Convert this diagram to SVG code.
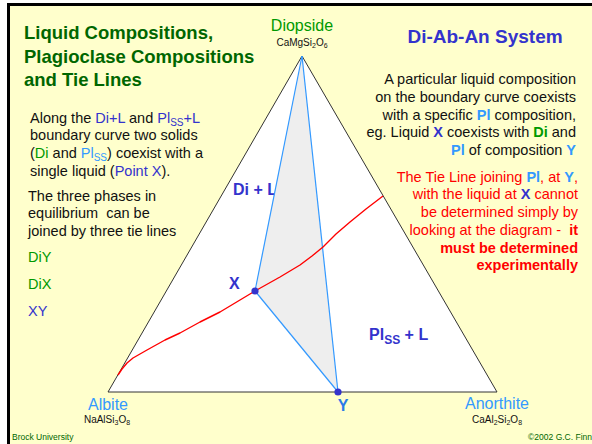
<svg xmlns="http://www.w3.org/2000/svg" width="592" height="444" viewBox="0 0 592 444">
<style>
text{font-family:"Liberation Sans",Arial,sans-serif}
.t{font-size:14.5px;fill:#111}
.title{font-size:18.5px;font-weight:bold;fill:#006600}
.db{fill:#3333cc}
.lb{fill:#3399ff}
.gr{fill:#009900}
.b{font-weight:bold}
.red{fill:#ff0000}
.vtx{font-size:16px;text-anchor:middle}
.form{font-size:10px;fill:#111;text-anchor:middle}
.lab{font-weight:bold;fill:#3333cc;font-size:16px}
.foot{font-size:8.5px;fill:#006600}
.tie{fill:none;stroke:#3399ff;stroke-width:1.2}
</style>
<rect x="0" y="0" width="592" height="444" fill="#ffffff"/>
<rect x="8.5" y="4.5" width="600" height="460" fill="#ffffcc" stroke="#000" stroke-width="3"/>

<g id="diagram-triangle">
<polygon points="302,56 108,392 497,392" fill="#ffffff" stroke="#333" stroke-width="1"/>
</g>

<g id="field-labels">
<text x="233" y="195" class="lab">Di + L</text>
<text x="369" y="340" class="lab">Pl<tspan dy="4" font-size="12">SS</tspan><tspan dy="-4"> + L</tspan></text>
</g>

<g id="connectors">
<polygon points="302,56 255,291 338,392" fill="#eeeeee" stroke="none"/>
<line x1="302" y1="56" x2="255" y2="291" class="tie"/>
<line x1="302" y1="56" x2="338" y2="392" class="tie"/>
<line x1="255" y1="291" x2="338" y2="392" class="tie"/>
<polyline points="118,375 122,369 127,363 133,358 140,354 147,350 156,345 165,340 180,333 200,322 220,312 240,300 255,291 280,277 300,265 312,256 323,247 336,234 350,222 366,209 383,196" fill="none" stroke="#ff0000" stroke-width="1.4" stroke-linejoin="round"/>
</g>

<g id="point-X">
<circle cx="255" cy="291" r="3.6" fill="#3333cc"/>
<text x="229" y="289" class="lab">X</text>
</g>
<g id="point-Y">
<circle cx="338" cy="392" r="3.6" fill="#3333cc"/>
<text x="343" y="411" class="lab" style="fill:#2a7ae8;text-anchor:middle">Y</text>
</g>

<g id="vertex-diopside">
<text x="302" y="31" class="vtx gr">Diopside</text>
<text x="302" y="46" class="form">CaMgSi<tspan dy="2" font-size="7">2</tspan><tspan dy="-2">O</tspan><tspan dy="2" font-size="7">6</tspan></text>
</g>
<g id="vertex-albite">
<text x="108" y="410" class="vtx lb">Albite</text>
<text x="107" y="423" class="form">NaAlSi<tspan dy="2" font-size="7">3</tspan><tspan dy="-2">O</tspan><tspan dy="2" font-size="7">8</tspan></text>
</g>
<g id="vertex-anorthite">
<text x="497" y="409" class="vtx lb">Anorthite</text>
<text x="497" y="423" class="form">CaAl<tspan dy="2" font-size="7">2</tspan><tspan dy="-2">Si</tspan><tspan dy="2" font-size="7">2</tspan><tspan dy="-2">O</tspan><tspan dy="2" font-size="7">8</tspan></text>
</g>

<g id="title">
<text x="24" y="39" class="title">Liquid Compositions,</text>
<text x="24" y="63" class="title">Plagioclase Compositions</text>
<text x="24" y="86" class="title">and Tie Lines</text>
</g>
<g id="system-title">
<text x="485" y="43" font-size="19" font-weight="bold" fill="#3333cc" text-anchor="middle">Di-Ab-An System</text>
</g>

<g id="left-text">
<text x="30" y="123" class="t">Along the <tspan class="db">Di+L</tspan> and <tspan class="db">Pl<tspan dy="3" font-size="10">SS</tspan><tspan dy="-3">+L</tspan></tspan></text>
<text x="30" y="140" class="t">boundary curve two solids</text>
<text x="30" y="158" class="t">(<tspan class="gr">Di</tspan> and <tspan class="lb">Pl<tspan dy="3" font-size="10">SS</tspan></tspan><tspan dy="-3">) coexist with a</tspan></text>
<text x="30" y="176" class="t">single liquid (<tspan class="db">Point X</tspan>).</text>
<text x="28" y="201" class="t">The three phases in</text>
<text x="28" y="218" class="t" xml:space="preserve">equilibrium  can be</text>
<text x="28" y="236" class="t">joined by three tie lines</text>
<text x="28" y="262" class="t gr">DiY</text>
<text x="28" y="289" class="t gr">DiX</text>
<text x="28" y="316" class="t db">XY</text>
</g>

<g id="right-text">
<text x="576" y="84" class="t" text-anchor="end">A particular liquid composition</text>
<text x="576" y="102" class="t" text-anchor="end">on the boundary curve coexists</text>
<text x="576" y="120" class="t" text-anchor="end">with a specific <tspan class="lb b">Pl</tspan> composition,</text>
<text x="576" y="137" class="t" text-anchor="end">eg. Liquid <tspan class="db b">X</tspan> coexists with <tspan class="gr b">Di</tspan> and</text>
<text x="576" y="155" class="t" text-anchor="end"><tspan class="lb b">Pl</tspan> of composition <tspan class="lb b">Y</tspan></text>
</g>

<g id="red-text">
<text x="578" y="182" class="t red" text-anchor="end">The Tie Line joining <tspan class="lb b">Pl</tspan>, at <tspan class="lb b">Y</tspan>,</text>
<text x="578" y="199" class="t red" text-anchor="end">with the liquid at <tspan class="db b">X</tspan> cannot</text>
<text x="578" y="217" class="t red" text-anchor="end">be determined simply by</text>
<text x="578" y="235" class="t red" text-anchor="end" xml:space="preserve">looking at the diagram -  <tspan class="b">it</tspan></text>
<text x="578" y="253" class="t red b" text-anchor="end">must be determined</text>
<text x="578" y="270" class="t red b" text-anchor="end">experimentally</text>
</g>

<g id="footer">
<text x="12" y="440" class="foot">Brock University</text>
<text x="592" y="440" class="foot" text-anchor="end">©2002 G.C. Finn</text>
</g>
</svg>
